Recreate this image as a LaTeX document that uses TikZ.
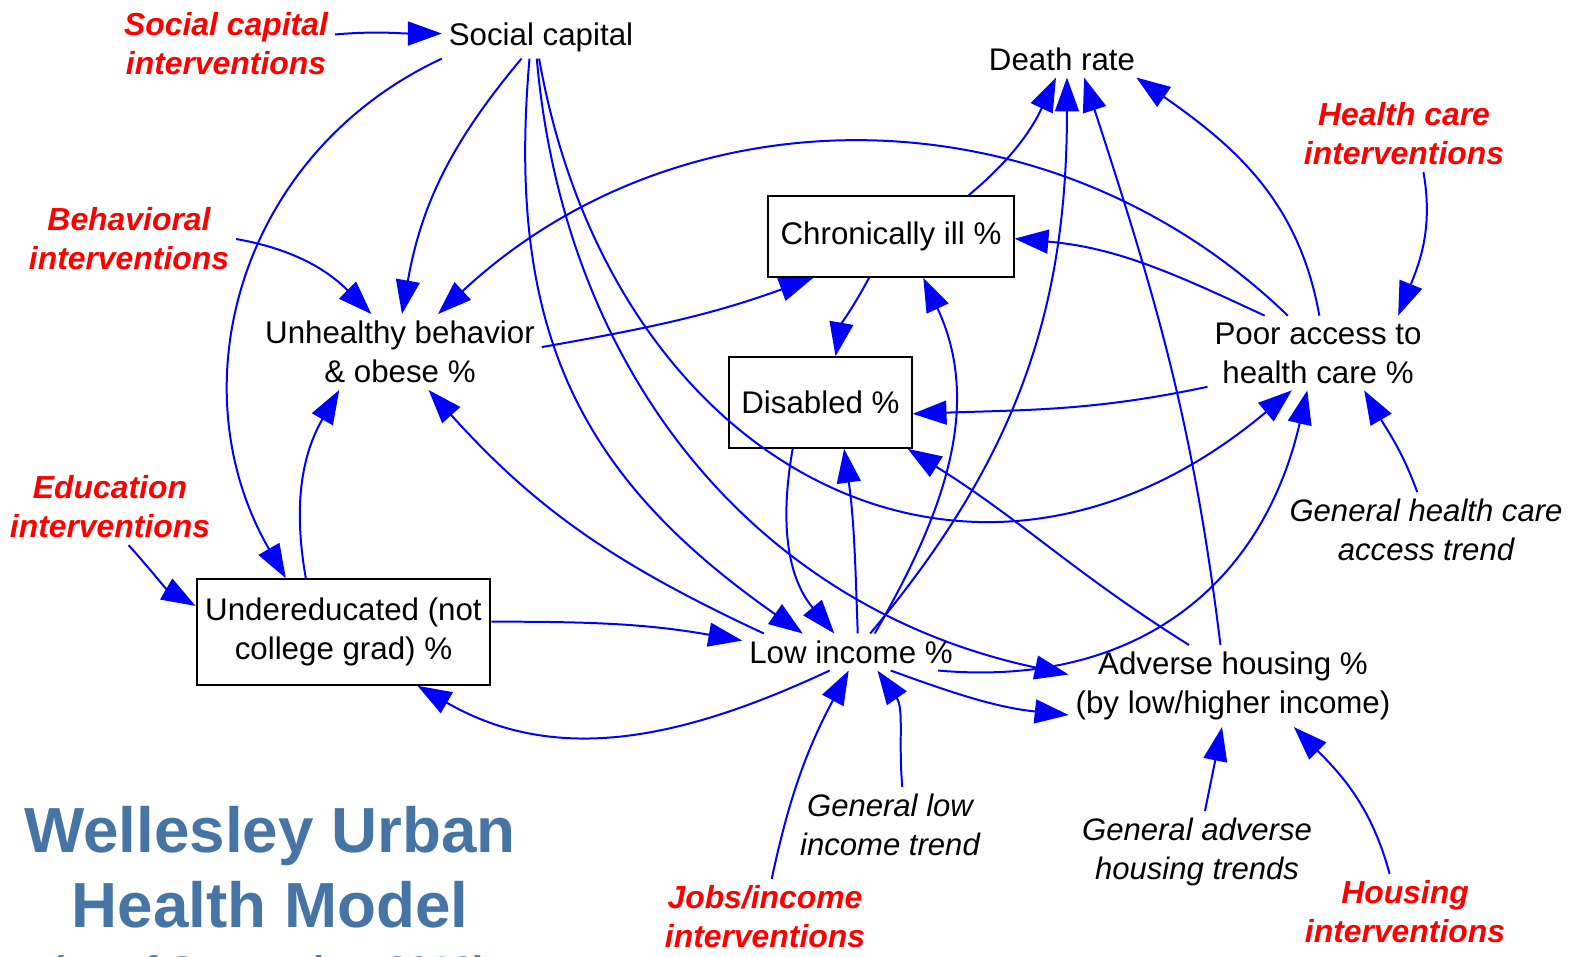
\documentclass[tikz,border=0pt]{standalone}
\usepackage{fontspec}
\setmainfont{Liberation Sans}
\usetikzlibrary{arrows.meta}
\definecolor{titleblue}{RGB}{70,116,165}
\definecolor{leverred}{RGB}{255,0,0}

\begin{document}
\begin{tikzpicture}[x=0.5bp, y=0.5bp,
  var/.style={font=\fontsize{15.7}{19.5}\selectfont, align=center},
  stock/.style={var, draw, line width=1pt},
  lever/.style={font=\fontsize{16}{19.5}\selectfont\bfseries\itshape, text=leverred, align=center},
  trend/.style={font=\fontsize{15.6}{19.5}\selectfont\itshape, align=center},
  infl/.style={blue, line width=1pt, -{Triangle[length=17pt, width=12pt]}}]
\useasboundingbox (0,0) rectangle (1577,-956);
\node[var] (sc) at (541,-37) {Social capital};
\node[var] (death) at (1062,-59) {Death rate};
\node[stock, minimum width=123pt, minimum height=40.5pt] (chronic) at (891,-236.5) {Chronically ill \%};
\node[stock, minimum width=91.5pt, minimum height=45.5pt] (disabled) at (820.5,-402.5) {Disabled \%};
\node[stock, minimum width=147.5pt, minimum height=53pt] (undered) at (343.5,-632) {Undereducated (not\\college grad) \%};
\node[var] (unhealthy) at (400,-352) {Unhealthy behavior\\\& obese \%};
\node[var] (access) at (1318,-353) {Poor access to\\health care \%};
\node[var] (lowinc) at (851,-652) {Low income \%};
\node[var] (housing) at (1233,-686) {Adverse housing \%\\(by low/higher income)};
\node[lever] (scint) at (226,-44) {Social capital\\interventions};
\node[lever] (behint) at (129,-239) {Behavioral\\interventions};
\node[lever] (eduint) at (110,-507) {Education\\interventions};
\node[lever] (hcint) at (1404,-134) {Health care\\interventions};
\node[lever] (jobint) at (765,-917) {Jobs/income\\interventions};
\node[lever] (houseint) at (1405,-912) {Housing\\interventions};
\node[trend] (hctrend) at (1426,-530) {General health care\\access trend};
\node[trend] (litrend) at (890,-825) {General low\\income trend};
\node[trend] (ahtrend) at (1197,-852) {General adverse\\housing trends};
\node[font=\fontsize{32}{37.5}\selectfont\bfseries, text=titleblue, align=center] (title) at (270,-867) {Wellesley Urban\\Health Model};
\node[font=\fontsize{20}{24}\selectfont\bfseries, text=titleblue, anchor=base] (date) at (270,-984) {(as of September 2010)};
\draw[infl] (scint.5) to[out=5,in=180] (sc.178);
\draw[infl] (sc.south west) to[out=205,in=120,looseness=1.05] (undered.137);
\draw[infl] (sc.-132) to[out=230,in=80] (unhealthy.87);
\draw[infl] (sc.-118) to[out=-95,in=145,looseness=1.1] (lowinc.159);
\draw[infl] (sc.-101) to[out=-85,in=168] (housing.176);
\draw[infl] (sc.-95) to[out=-80,in=-140,looseness=1.3] (access.-125);
\draw[infl] (behint.east) to[out=-10,in=135] (unhealthy.127);
\draw[infl] (access.129) to[out=136,in=43] (unhealthy.45);
\draw[infl] (unhealthy.2) to[out=10,in=200] (chronic.208);
\draw[infl] (undered.125) to[out=100,in=-120] (unhealthy.-148);
\draw[infl] (lowinc.168) to[out=155,in=-48] (unhealthy.-53);
\draw[infl] (undered.4) to[out=0,in=170] (lowinc.174);
\draw[infl] (lowinc.-139) to[out=205,in=-30] (undered.-36);
\draw[infl] (eduint.-64) to[out=-48,in=150] (undered.170);
\draw[infl] (chronic.28) to[out=40,in=-115] (death.-108);
\draw[infl] (chronic.-118) to[out=-118,in=80] (disabled.72);
\draw[infl] (access.145) to[out=155,in=-5] (chronic.-1);
\draw[infl] (access.88) to[out=100,in=-35] (death.-14);
\draw[infl] (lowinc.38) to[out=60,in=-65] (chronic.-52);
\draw[infl] (lowinc.44) to[out=50,in=-90] (death.-75);
\draw[infl] (housing.107) to[out=97,in=-72] (death.-40);
\draw[infl] (housing.137) to[out=148,in=-32] (disabled.-28);
\draw[infl] (access.197) to[out=192,in=2] (disabled.-7);
\draw[infl] (lowinc.70) to[out=92,in=-82] (disabled.-63);
\draw[infl] (disabled.-121) to[out=-100,in=130] (lowinc.132);
\draw[infl] (lowinc.-25) to[out=-20,in=174] (housing.190);
\draw[infl] (lowinc.-12) to[out=-5,in=-103,looseness=1.1] (access.-106);
\draw[infl] (hcint.-63) to[out=-80,in=68] (access.25);
\draw[infl] (hctrend.103) to[out=110,in=-60] (access.-39);
\draw[infl] (jobint.80) to[out=78,in=-118] (lowinc.-97);
\draw[infl] (litrend.72) to[out=95,in=-55] (lowinc.-35);
\draw[infl] (ahtrend.79) -- (housing.-105);
\draw[infl] (houseint.112) to[out=105,in=-45] (housing.-34);
\end{tikzpicture}
\end{document}
